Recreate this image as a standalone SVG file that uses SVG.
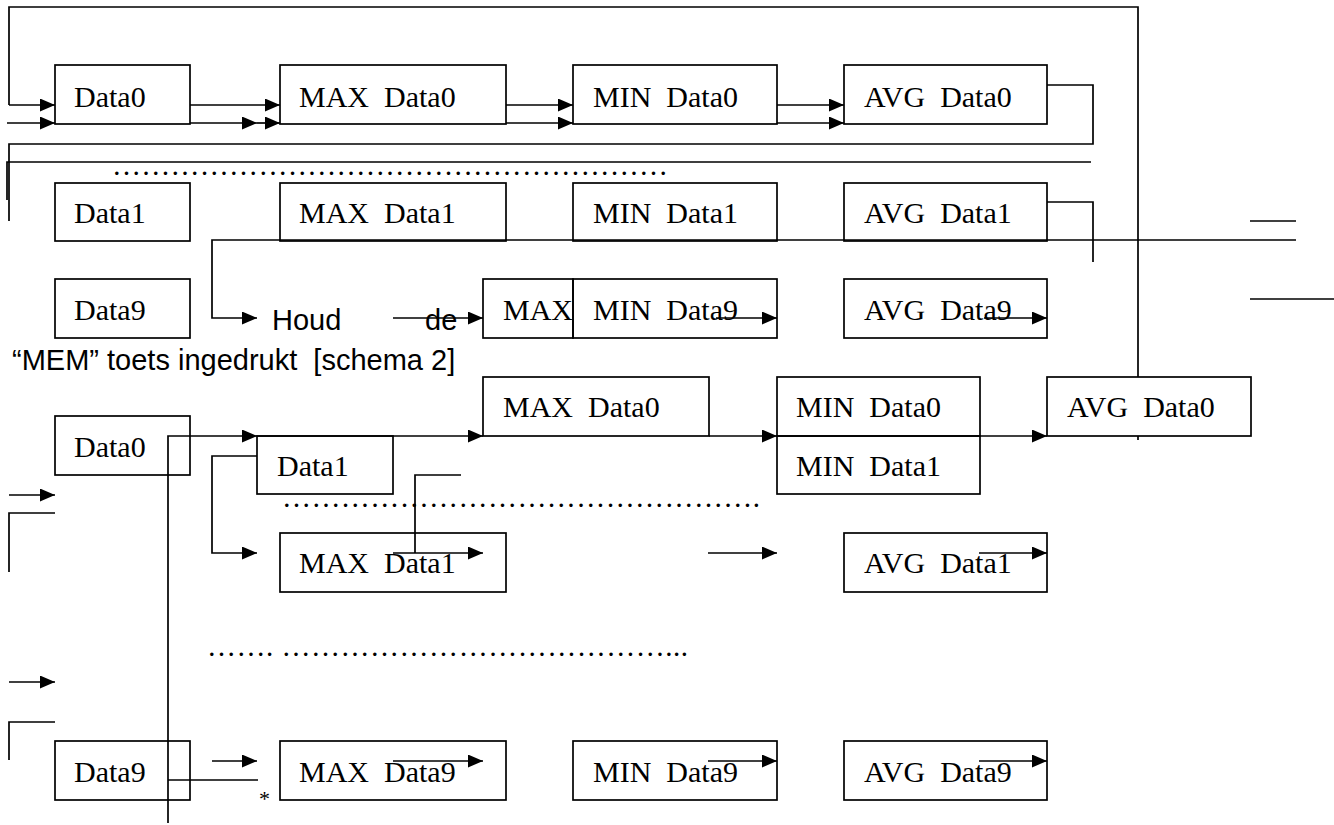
<svg xmlns="http://www.w3.org/2000/svg" width="1334" height="825" viewBox="0 0 1334 825">
<style>
.b{fill:none;stroke:#000;stroke-width:1.7}
.c{fill:none;stroke:#000;stroke-width:1.7}
.a{marker-end:url(#ah)}
.t{font-family:"Liberation Serif","Times New Roman",serif;font-size:30px;fill:#000;white-space:pre}
.d{font-family:"Liberation Serif","Times New Roman",serif;font-size:29px;fill:#000;white-space:pre}
.s{font-family:"Liberation Sans",Arial,sans-serif;font-size:29px;fill:#000;white-space:pre}
</style>
<defs>
<marker id="ah" markerWidth="15" markerHeight="13" refX="15" refY="6.5" orient="auto" markerUnits="userSpaceOnUse">
<path d="M0,0 L15,6.5 L0,13 z" fill="#000"/>
</marker>
</defs>
<rect width="1334" height="825" fill="#fff"/>

<g id="nodes">
<g id="n-data0"><rect class="b" x="55" y="65" width="135" height="59"/><text class="t" x="74" y="107">Data0</text></g>
<g id="n-max-data0"><rect class="b" x="280" y="65" width="226" height="59"/><text class="t" x="299" y="107">MAX  Data0</text></g>
<g id="n-min-data0"><rect class="b" x="573" y="65" width="204" height="59"/><text class="t" x="593" y="107">MIN  Data0</text></g>
<g id="n-avg-data0"><rect class="b" x="844" y="65" width="203" height="59"/><text class="t" x="864" y="107">AVG  Data0</text></g>

<g id="n-data1"><rect class="b" x="55" y="183" width="135" height="58"/><text class="t" x="74" y="223">Data1</text></g>
<g id="n-max-data1"><rect class="b" x="280" y="183" width="226" height="58"/><text class="t" x="299" y="223">MAX  Data1</text></g>
<g id="n-min-data1"><rect class="b" x="573" y="183" width="204" height="58"/><text class="t" x="593" y="223">MIN  Data1</text></g>
<g id="n-avg-data1"><rect class="b" x="844" y="183" width="203" height="58"/><text class="t" x="864" y="223">AVG  Data1</text></g>

<g id="n-data9"><rect class="b" x="55" y="279" width="135" height="59"/><text class="t" x="74" y="320">Data9</text></g>
<g id="n-max"><rect class="b" x="483" y="279" width="90" height="59"/><text class="t" x="503" y="320">MAX</text></g>
<g id="n-min-data9"><rect class="b" x="573" y="279" width="204" height="59"/><text class="t" x="593" y="320">MIN  Data9</text></g>
<g id="n-avg-data9"><rect class="b" x="844" y="279" width="203" height="59"/><text class="t" x="864" y="320">AVG  Data9</text></g>

<g id="n-houd"><text class="s" x="272" y="330">Houd</text><text class="s" x="425" y="330">de</text></g>
<g id="n-mem"><text class="s" x="12" y="370">“MEM” toets ingedrukt  [schema 2]</text></g>

<g id="n2-data0"><rect class="b" x="55" y="416" width="135" height="59"/><text class="t" x="74" y="457">Data0</text></g>
<g id="n2-data1"><rect class="b" x="257" y="436" width="136" height="58"/><text class="t" x="277" y="476">Data1</text></g>
<g id="n2-max-data0"><rect class="b" x="483" y="377" width="226" height="59"/><text class="t" x="503" y="417">MAX  Data0</text></g>
<g id="n2-min-data0"><rect class="b" x="777" y="377" width="203" height="59"/><text class="t" x="796" y="417">MIN  Data0</text></g>
<g id="n2-min-data1"><rect class="b" x="777" y="436" width="203" height="58"/><text class="t" x="796" y="476">MIN  Data1</text></g>
<g id="n2-avg-data0"><rect class="b" x="1047" y="377" width="204" height="59"/><text class="t" x="1067" y="417">AVG  Data0</text></g>

<g id="n2-max-data1"><rect class="b" x="280" y="533" width="226" height="59"/><text class="t" x="299" y="573">MAX  Data1</text></g>
<g id="n2-avg-data1"><rect class="b" x="844" y="533" width="203" height="59"/><text class="t" x="864" y="573">AVG  Data1</text></g>

<g id="n2-data9"><rect class="b" x="55" y="741" width="135" height="59"/><text class="t" x="74" y="782">Data9</text></g>
<g id="n2-max-data9"><rect class="b" x="280" y="741" width="226" height="59"/><text class="t" x="299" y="782">MAX  Data9</text></g>
<g id="n2-min-data9"><rect class="b" x="573" y="741" width="204" height="59"/><text class="t" x="593" y="782">MIN  Data9</text></g>
<g id="n2-avg-data9"><rect class="b" x="844" y="741" width="203" height="59"/><text class="t" x="864" y="782">AVG  Data9</text></g>

<g id="dots">
<text class="d" x="112" y="175" textLength="556" lengthAdjust="spacing">&#8230;&#8230;&#8230;&#8230;&#8230;&#8230;&#8230;&#8230;&#8230;&#8230;&#8230;&#8230;&#8230;&#8230;&#8230;&#8230;&#8230;&#8230;&#8230;</text>
<text class="d" x="282" y="507" textLength="478" lengthAdjust="spacing">&#8230;&#8230;&#8230;&#8230;&#8230;&#8230;&#8230;&#8230;&#8230;&#8230;&#8230;&#8230;&#8230;&#8230;&#8230;&#8230;.</text>
<text class="d" x="207" y="656" textLength="481" lengthAdjust="spacing">&#8230;&#8230;. &#8230;&#8230;&#8230;&#8230;&#8230;&#8230;&#8230;&#8230;&#8230;&#8230;&#8230;&#8230;&#8230;...</text>
<text class="d" x="259" y="806" style="font-size:22px">*</text>
</g>
</g>

<g id="connectors">
<path class="c" d="M1138,377 V7 H9 V105"/>
<path class="c a" d="M9,105 H55"/>
<path class="c a" d="M7,123 H55"/>
<path class="c a" d="M190,105 H280"/>
<path class="c a" d="M190,123 H257"/>
<path class="c a" d="M257,123 H280"/>
<path class="c a" d="M506,105 H573"/>
<path class="c a" d="M506,123 H573"/>
<path class="c a" d="M777,105 H844"/>
<path class="c a" d="M777,123 H844"/>
<path class="c" d="M1047,85 H1093 V144 H9 V221"/>
<path class="c" d="M7,200 V162 H1091"/>
<path class="c" d="M1047,202 H1093 V262"/>
<path class="c a" d="M1296,240 H212 V318 H257"/>
<path class="c" d="M1250,221 H1296"/>
<path class="c" d="M1250,299 H1334"/>
<path class="c a" d="M393,318 H483"/>
<path class="c a" d="M716,318 H777"/>
<path class="c a" d="M984,318 H1047"/>
<path class="c" d="M1138,436 V440"/>
<path class="c a" d="M168,823 V436 H257"/>
<path class="c a" d="M257,436 H483"/>
<path class="c a" d="M709,436 H777"/>
<path class="c a" d="M980,436 H1047"/>
<path class="c a" d="M257,456 H212 V553 H257"/>
<path class="c" d="M461,475 H415 V553"/>
<path class="c a" d="M393,553 H483"/>
<path class="c a" d="M708,553 H777"/>
<path class="c a" d="M979,553 H1047"/>
<path class="c a" d="M9,495 H55"/>
<path class="c" d="M55,513 H9 V572"/>
<path class="c a" d="M9,682 H55"/>
<path class="c" d="M55,722 H9 V760"/>
<path class="c" d="M168,780 H258"/>
<path class="c a" d="M212,761 H257"/>
<path class="c a" d="M393,761 H483"/>
<path class="c a" d="M708,761 H777"/>
<path class="c a" d="M979,761 H1047"/>
</g>
</svg>
